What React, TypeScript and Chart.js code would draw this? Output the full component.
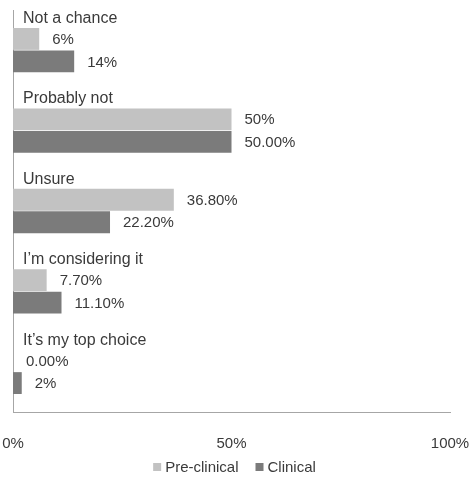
import React, { useEffect, useRef } from "react";
import { Chart, registerables } from "chart.js";

Chart.register(...registerables);

const categories = ["Not a chance", "Probably not", "Unsure", "I’m considering it", "It’s my top choice"];
const preClinical = [6, 50, 36.8, 7.7, 0];
const clinical = [14, 50, 22.2, 11.1, 2];
const preLabels = ["6%", "50%", "36.80%", "7.70%", "0.00%"];
const clinLabels = ["14%", "50.00%", "22.20%", "11.10%", "2%"];
const seriesNames = ["Pre-clinical", "Clinical"];
const xTickValues = [0, 50, 100];

const LIGHT = "#c2c2c2";
const DARK = "#7b7b7b";
const TEXT = "#3a3a3a";
const AXIS = "#a6a6a6";
const FONT = "'Liberation Sans', Arial, sans-serif";

const labelsPlugin = {
  id: "customLabels",
  afterDatasetsDraw(chart: any) {
    const ctx = chart.ctx;
    const area = chart.chartArea;
    ctx.save();
    ctx.fillStyle = TEXT;
    // category labels above each group
    ctx.font = `16px ${FONT}`;
    const meta0 = chart.getDatasetMeta(0);
    meta0.data.forEach((el: any, i: number) => {
      const top = el.y - el.height / 2;
      ctx.textAlign = "left";
      ctx.textBaseline = "alphabetic";
      ctx.fillText(categories[i], area.left + 10, top - 5);
    });
    // value labels
    ctx.font = `15px ${FONT}`;
    const allLabels = [preLabels, clinLabels];
    [0, 1].forEach((d) => {
      const meta = chart.getDatasetMeta(d);
      meta.data.forEach((el: any, i: number) => {
        ctx.textAlign = "left";
        ctx.textBaseline = "middle";
        ctx.fillText(allLabels[d][i], el.x + 13, el.y + 1);
      });
    });
    // legend
    const colors = [LIGHT, DARK];
    const box = 8;
    const gapBoxText = 4;
    const gapItems = 17;
    const widths = seriesNames.map((n) => ctx.measureText(n).width);
    const total = widths.reduce((a: number, w: number) => a + box + gapBoxText + w, 0) + gapItems;
    let x = chart.width / 2 - total / 2;
    const y = 467;
    seriesNames.forEach((n, k) => {
      ctx.fillStyle = colors[k];
      ctx.fillRect(x, y - box / 2, box, box);
      ctx.fillStyle = TEXT;
      ctx.textAlign = "left";
      ctx.textBaseline = "middle";
      ctx.fillText(n, x + box + gapBoxText, y + 1);
      x += box + gapBoxText + widths[k] + gapItems;
    });
    ctx.restore();
  },
};

export default function App() {
  const ref = useRef<HTMLCanvasElement | null>(null);
  useEffect(() => {
    document.body.style.margin = "0";
    const chart = new Chart(ref.current as HTMLCanvasElement, {
      type: "bar",
      data: {
        labels: categories,
        datasets: [
          {
            label: seriesNames[0],
            data: preClinical,
            backgroundColor: LIGHT,
            categoryPercentage: 0.56,
            barPercentage: 0.97,
          },
          {
            label: seriesNames[1],
            data: clinical,
            backgroundColor: DARK,
            categoryPercentage: 0.56,
            barPercentage: 0.97,
          },
        ],
      },
      options: {
        indexAxis: "y",
        animation: false,
        responsive: true,
        maintainAspectRatio: false,
        layout: { padding: { left: 13, right: 19, top: 10, bottom: 0 } },
        plugins: {
          legend: { display: false },
          tooltip: { enabled: false },
        },
        scales: {
          x: {
            min: 0,
            max: 100,
            afterBuildTicks(scale: any) {
              scale.ticks = xTickValues.map((v) => ({ value: v }));
            },
            afterFit(scale: any) {
              scale.height = 67;
              scale.paddingLeft = 0;
              scale.paddingRight = 0;
            },
            grid: { display: false, drawTicks: false },
            border: { display: true, color: AXIS, width: 1 },
            ticks: {
              padding: 23,
              color: TEXT,
              font: { size: 15, family: FONT },
              maxRotation: 0,
              callback: (v: any) => `${v}%`,
            },
          },
          y: {
            grid: { display: false, drawTicks: false },
            border: { display: true, color: AXIS, width: 1 },
            ticks: { display: false },
            afterFit(scale: any) {
              scale.width = 0;
              scale.paddingTop = 0;
              scale.paddingBottom = 0;
            },
          },
        },
      },
      plugins: [labelsPlugin],
    } as any);
    return () => chart.destroy();
  }, []);
  return (
    <div style={{ width: 469, height: 479, position: "relative" }}>
      <canvas ref={ref} />
    </div>
  );
}
